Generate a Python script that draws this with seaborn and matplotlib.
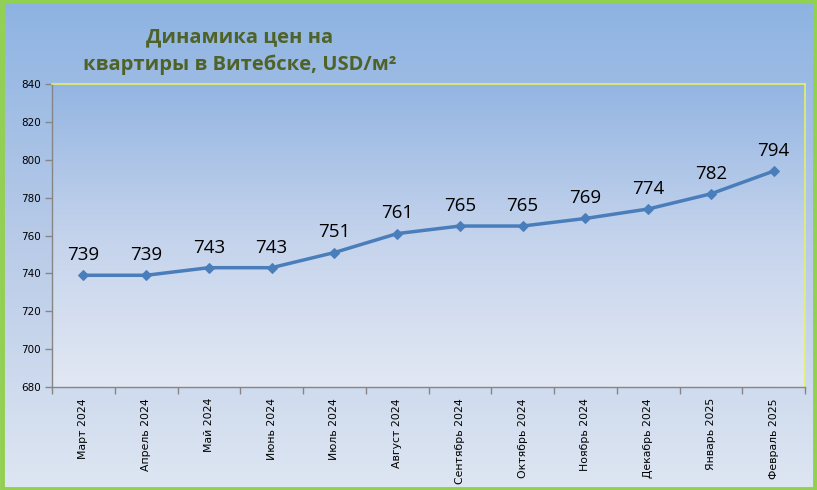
import numpy as np
import pandas as pd
import matplotlib
matplotlib.use("Agg")
import matplotlib.pyplot as plt
from matplotlib.colors import LinearSegmentedColormap
import seaborn as sns

months = ["Март 2024", "Апрель 2024", "Май 2024", "Июнь 2024", "Июль 2024",
          "Август 2024", "Сентябрь 2024", "Октябрь 2024", "Ноябрь 2024",
          "Декабрь 2024", "Январь 2025", "Февраль 2025"]
prices = [739, 739, 743, 743, 751, 761, 765, 765, 769, 774, 782, 794]
y_ticks = [680, 700, 720, 740, 760, 780, 800, 820, 840]
title = "Динамика цен на\nквартиры в Витебске, USD/м²"

sns.set_theme(style="white")
plt.rcParams['font.family'] = ['DejaVu Sans']

W, H = 817, 490
fig = plt.figure(figsize=(W / 100, H / 100), dpi=100)

# figure background gradient
bg = fig.add_axes([0, 0, 1, 1], zorder=0)
cmap_bg = LinearSegmentedColormap.from_list("bg", ["#8db3e2", "#b9cbe8", "#dee6f2"])
grad = np.linspace(0, 1, 256).reshape(-1, 1)
bg.imshow(grad, aspect="auto", cmap=cmap_bg, extent=[0, 1, 0, 1], origin="upper")
bg.set_xlim(0, 1); bg.set_ylim(0, 1)
bg.axis("off")
bg.add_patch(plt.Rectangle((0.002, 0.003), 0.996, 0.994, transform=bg.transAxes,
                           fill=False, edgecolor="#92d050", linewidth=3.5))

# plot area
left, right, top, bottom = 52, 805, 84, 387
ax = fig.add_axes([left / W, 1 - bottom / H, (right - left) / W, (bottom - top) / H], zorder=1)
cmap_pa = LinearSegmentedColormap.from_list("pa", ["#94b5e2", "#c4d3ec", "#e2e8f3"])
ax.imshow(grad, aspect="auto", cmap=cmap_pa, extent=[0, 1, 0, 1], origin="upper",
          transform=ax.transAxes, zorder=0)

df = pd.DataFrame({"month": months, "price": prices})
df["pos"] = np.arange(len(months))
sns.lineplot(data=df, x="pos", y="price", ax=ax, color="#4a7ebb", linewidth=2.5,
             marker="D", markersize=5, markeredgecolor="#4a7ebb", zorder=3, sort=False)

for xi, v in zip(df["pos"], prices):
    ax.annotate(str(v), (xi, v), xytext=(0, 8), textcoords="offset points",
                ha="center", va="bottom", fontsize=13.5, color="black",
                family=["Open Sans", "DejaVu Sans"])

ax.set_xlim(-0.5, len(months) - 0.5)
ax.set_ylim(680, 840)
ax.set_yticks(y_ticks)
ax.set_yticklabels([str(t) for t in y_ticks], fontsize=7.5, color="black")
ax.set_xticks(np.arange(len(months) + 1) - 0.5)
ax.set_xticklabels([])
ax.set_xticks(np.arange(len(months)), minor=True)
ax.set_xticklabels(months, minor=True, rotation=90, fontsize=7.8, color="black")
ax.tick_params(axis="x", which="major", direction="out", length=5, width=1, color="#868686", bottom=True)
ax.tick_params(axis="x", which="minor", length=0, pad=8)
ax.tick_params(axis="y", direction="out", length=5, width=1, color="#868686", left=True, pad=3)
ax.set_xlabel(""); ax.set_ylabel("")
ax.grid(False)

for s in ["left", "bottom"]:
    ax.spines[s].set_color("#868686"); ax.spines[s].set_linewidth(1)
for s in ["top", "right"]:
    ax.spines[s].set_color("#e3f06a"); ax.spines[s].set_linewidth(1.2)

fig.text(240 / W, 1 - 51 / H, title, ha="center", va="center", fontsize=14.5,
         fontweight="bold", color="#4f6228", linespacing=1.5,
         family=["Open Sans", "DejaVu Sans"])

fig.savefig("out.png", dpi=100)
